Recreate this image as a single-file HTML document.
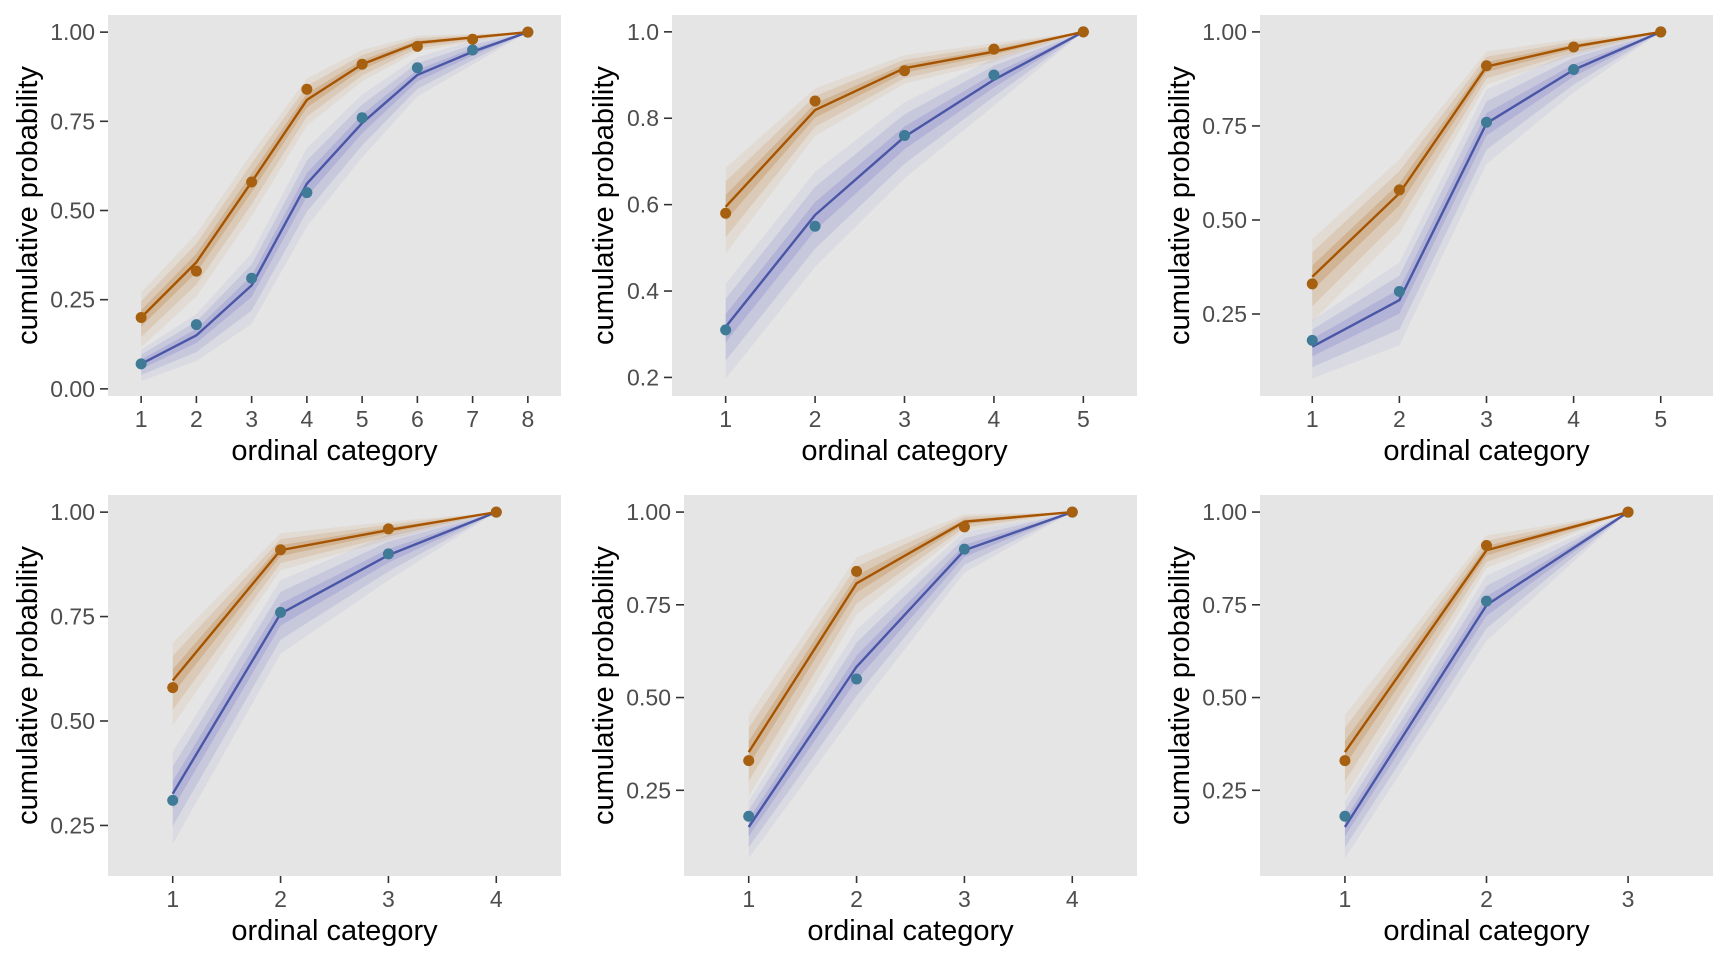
<!DOCTYPE html>
<html><head><meta charset="utf-8"><style>
html,body{margin:0;padding:0;background:#fff;}
svg{display:block;font-family:"Liberation Sans",Arial,sans-serif;}
</style></head><body>
<svg id="fig" width="1728" height="960" viewBox="0 0 1728 960" xmlns="http://www.w3.org/2000/svg"></svg>
<script>
// ---- data (per panel) ----
const panelCats = [8,5,5,4,4,3];
const yDomains = [[-0.02,1.048],[0.157,1.039],[0.032,1.045],[0.129,1.041],[0.019,1.046],[0.019,1.046]];
const yTickVals = [[0,0.25,0.5,0.75,1],[0.2,0.4,0.6,0.8,1.0],[0.25,0.5,0.75,1],[0.25,0.5,0.75,1],[0.25,0.5,0.75,1],[0.25,0.5,0.75,1]];
const yTickLabels = [["0.00","0.25","0.50","0.75","1.00"],["0.2","0.4","0.6","0.8","1.0"],["0.25","0.50","0.75","1.00"],["0.25","0.50","0.75","1.00"],["0.25","0.50","0.75","1.00"],["0.25","0.50","0.75","1.00"]];
const orangeObs = [[0.20,0.33,0.58,0.84,0.91,0.96,0.98,1],[0.58,0.84,0.91,0.96,1],[0.33,0.58,0.91,0.96,1],[0.58,0.91,0.96,1],[0.33,0.84,0.96,1],[0.33,0.91,1]];
const blueObs = [[0.07,0.18,0.31,0.55,0.76,0.90,0.95,1],[0.31,0.55,0.76,0.90,1],[0.18,0.31,0.76,0.90,1],[0.31,0.76,0.90,1],[0.18,0.55,0.90,1],[0.18,0.76,1]];
const orangeFit = [[0.20,0.355,0.58,0.81,0.91,0.97,0.985,1],[0.595,0.819,0.916,0.954,1],[0.349,0.571,0.908,0.961,1],[0.597,0.909,0.957,1],[0.353,0.808,0.974,1],[0.353,0.897,1]];
const blueFit = [[0.07,0.15,0.29,0.575,0.745,0.88,0.945,1],[0.317,0.576,0.757,0.889,1],[0.163,0.287,0.757,0.899,1],[0.326,0.757,0.897,1],[0.151,0.583,0.897,1],[0.151,0.749,1]];
const orangeSpread = [[0.07,0.08,0.08,0.06,0.04,0.02,0.01,0],[0.09,0.05,0.03,0.02,0],[0.1,0.09,0.04,0.02,0],[0.09,0.04,0.02,0],[0.1,0.07,0.02,0],[0.1,0.04,0]];
const blueSpread = [[0.04,0.06,0.09,0.1,0.08,0.05,0.03,0],[0.1,0.1,0.08,0.05,0],[0.07,0.1,0.09,0.05,0],[0.1,0.08,0.05,0],[0.07,0.1,0.05,0],[0.07,0.08,0]];

const NS="http://www.w3.org/2000/svg";
const svg=document.getElementById('fig');
function mk(tag,attrs,parent){const e=document.createElementNS(NS,tag);for(const k in attrs)e.setAttribute(k,attrs[k]);(parent||svg).appendChild(e);return e;}

for(let p=0;p<6;p++){
  const col=p%3,row=Math.floor(p/3);
  const ox=col*576, oy=row*480;
  const L=ox+(p===1?96:108), R=ox+561, T=oy+15, B=oy+396;
  const K=panelCats[p];
  const xs=v=>L+(v-0.4)/(K-0.4+0.6)*(R-L);
  const [y0,y1]=yDomains[p];
  const ys=v=>B-(v-y0)/(y1-y0)*(B-T);
  const g=mk('g',{});
  
  
  const bg=mk('rect',{x:L,y:T,width:R-L,height:B-T,fill:'#e5e5e5'},g);
  
  
  function band(fit,spread,color,name){
    for(const [f,a] of [[1,0.08],[0.65,0.14],[0.3,0.2]]){
      let up=[],lo=[];
      for(let i=0;i<K;i++){up.push(xs(i+1)+','+ys(Math.min(1.005,fit[i]+spread[i]*f)));lo.unshift(xs(i+1)+','+ys(fit[i]-spread[i]*f*1.2));}
      const pg=mk('polygon',{points:up.concat(lo).join(' '),fill:color,'fill-opacity':a},g);
      
      
    }
  }
  band(blueFit[p],blueSpread[p],'#5a5fc0','blue-posterior-band');
  band(orangeFit[p],orangeSpread[p],'#b0600a','orange-posterior-band');
  function line(fit,color,name){
    const pts=fit.map((v,i)=>xs(i+1)+','+ys(v)).join(' ');
    const l=mk('polyline',{points:pts,fill:'none',stroke:color,'stroke-width':2.4,'stroke-linejoin':'round'},g);
    
    
  }
  line(blueFit[p],'#4a56a6','blue-mean-line');
  line(orangeFit[p],'#a65400','orange-mean-line');
  function pts(obs,color,name){
    obs.forEach((v,i)=>{
      const c=mk('circle',{cx:xs(i+1),cy:ys(v),r:5.5,fill:color},g);
      
      
    });
  }
  pts(blueObs[p],'#3f7a96','blue-observed-point');
  pts(orangeObs[p],'#a6600f','orange-observed-point');
  yTickVals[p].forEach((v,i)=>{
    const y=ys(v);
    const tk=mk('line',{x1:L-8,x2:L,y1:y,y2:y,stroke:'#333','stroke-width':1.6},g);
    
    
    const t=mk('text',{x:L-13,y:y+8,'text-anchor':'end','font-size':23,fill:'#4d4d4d'},g);
    t.textContent=yTickLabels[p][i];
    
    
  });
  for(let k=1;k<=K;k++){
    const x=xs(k);
    const tk=mk('line',{x1:x,x2:x,y1:B,y2:B+7,stroke:'#333','stroke-width':1.6},g);
    
    
    const t=mk('text',{x:x,y:B+31,'text-anchor':'middle','font-size':23,fill:'#4d4d4d'},g);
    t.textContent=String(k);
    
    
  }
  const xt=mk('text',{x:(L+R)/2,y:oy+460,'text-anchor':'middle','font-size':29,fill:'#000'},g);
  xt.textContent='ordinal category';
  
  
  const cy=(T+B)/2;
  const yt=mk('text',{x:ox+37,y:cy,'text-anchor':'middle','font-size':29,fill:'#000',transform:'rotate(-90 '+(ox+37)+' '+cy+')'},g);
  yt.textContent='cumulative probability';
  
  
}
</script>
</body></html>
